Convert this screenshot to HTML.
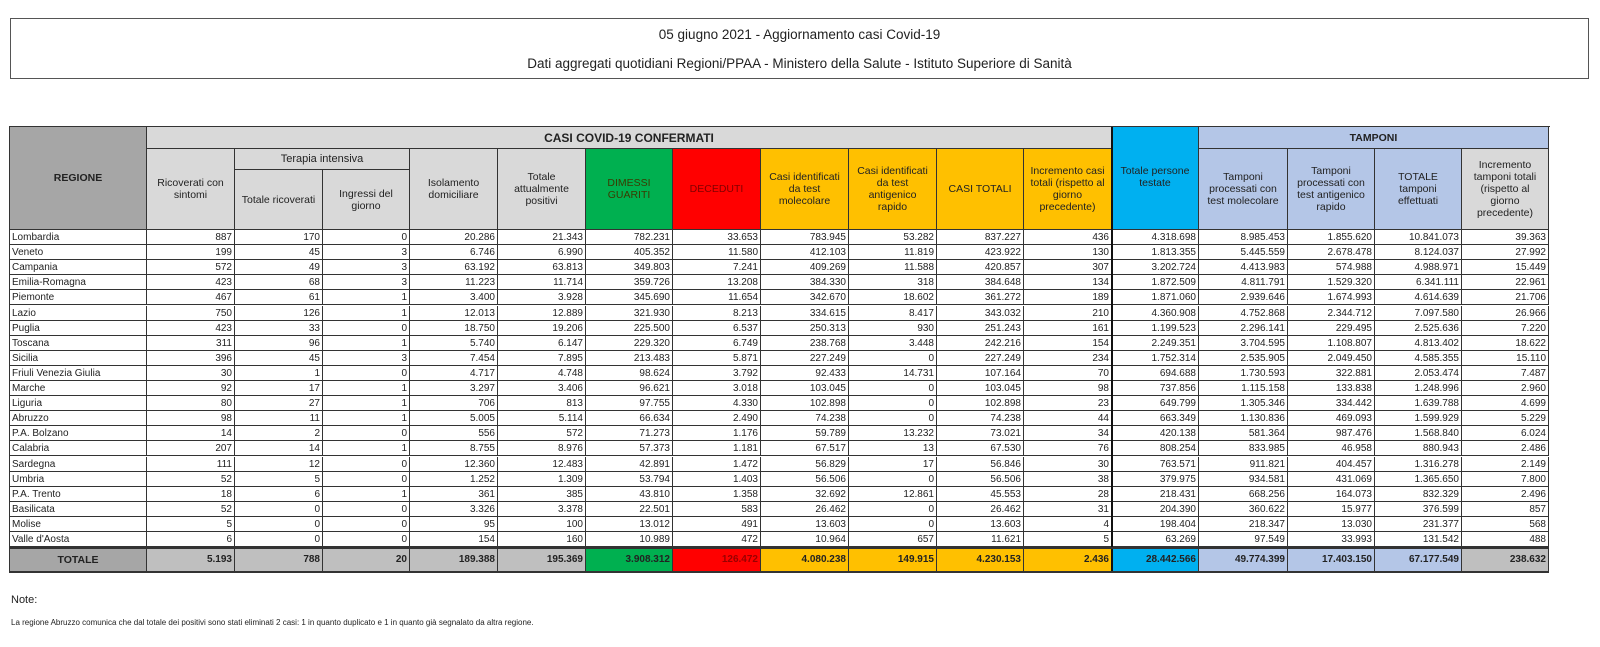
<!DOCTYPE html>
<html><head><meta charset="utf-8">
<style>
html,body{margin:0;padding:0;background:#fff;width:1600px;height:647px;overflow:hidden;font-family:"Liberation Sans",sans-serif;}
#title{position:absolute;left:10px;top:18px;width:1579px;height:61px;border:1px solid #555;box-sizing:border-box;text-align:center;font-size:13.5px;color:#222;}
#title div{position:absolute;left:0;right:0;}
.c{position:absolute;box-sizing:border-box;border-right:1px solid #333;border-bottom:1px solid #333;font-size:10px;color:#222;overflow:hidden;white-space:nowrap;}
.h{display:flex;align-items:center;justify-content:center;text-align:center;white-space:normal;line-height:12px;font-size:10.5px;padding:0 6px;}
.n{text-align:right;padding-right:2px;line-height:15px;}
.r{text-align:left;padding-left:2px;line-height:15px;}
.t{font-weight:bold;line-height:22px;font-size:10px;}
#note{position:absolute;left:11px;top:594px;font-size:11px;color:#222;}
#foot{position:absolute;left:11px;top:618px;font-size:8px;color:#222;}
</style></head><body>
<div id="title">
<div style="top:8px">05 giugno 2021 - Aggiornamento casi Covid-19</div>
<div style="top:37px">Dati aggregati quotidiani Regioni/PPAA - Ministero della Salute - Istituto Superiore di Sanità</div>
</div>
<div id="tbl"></div>
<div id="note">Note:</div>
<div id="foot">La regione Abruzzo comunica che dal totale dei positivi sono stati eliminati 2 casi: 1 in quanto duplicato e 1 in quanto già segnalato da altra regione.</div>
<script>
const regions=["Lombardia","Veneto","Campania","Emilia-Romagna","Piemonte","Lazio","Puglia","Toscana","Sicilia","Friuli Venezia Giulia","Marche","Liguria","Abruzzo","P.A. Bolzano","Calabria","Sardegna","Umbria","P.A. Trento","Basilicata","Molise","Valle d'Aosta"];
const values=[
["887","170","0","20.286","21.343","782.231","33.653","783.945","53.282","837.227","436","4.318.698","8.985.453","1.855.620","10.841.073","39.363"],
["199","45","3","6.746","6.990","405.352","11.580","412.103","11.819","423.922","130","1.813.355","5.445.559","2.678.478","8.124.037","27.992"],
["572","49","3","63.192","63.813","349.803","7.241","409.269","11.588","420.857","307","3.202.724","4.413.983","574.988","4.988.971","15.449"],
["423","68","3","11.223","11.714","359.726","13.208","384.330","318","384.648","134","1.872.509","4.811.791","1.529.320","6.341.111","22.961"],
["467","61","1","3.400","3.928","345.690","11.654","342.670","18.602","361.272","189","1.871.060","2.939.646","1.674.993","4.614.639","21.706"],
["750","126","1","12.013","12.889","321.930","8.213","334.615","8.417","343.032","210","4.360.908","4.752.868","2.344.712","7.097.580","26.966"],
["423","33","0","18.750","19.206","225.500","6.537","250.313","930","251.243","161","1.199.523","2.296.141","229.495","2.525.636","7.220"],
["311","96","1","5.740","6.147","229.320","6.749","238.768","3.448","242.216","154","2.249.351","3.704.595","1.108.807","4.813.402","18.622"],
["396","45","3","7.454","7.895","213.483","5.871","227.249","0","227.249","234","1.752.314","2.535.905","2.049.450","4.585.355","15.110"],
["30","1","0","4.717","4.748","98.624","3.792","92.433","14.731","107.164","70","694.688","1.730.593","322.881","2.053.474","7.487"],
["92","17","1","3.297","3.406","96.621","3.018","103.045","0","103.045","98","737.856","1.115.158","133.838","1.248.996","2.960"],
["80","27","1","706","813","97.755","4.330","102.898","0","102.898","23","649.799","1.305.346","334.442","1.639.788","4.699"],
["98","11","1","5.005","5.114","66.634","2.490","74.238","0","74.238","44","663.349","1.130.836","469.093","1.599.929","5.229"],
["14","2","0","556","572","71.273","1.176","59.789","13.232","73.021","34","420.138","581.364","987.476","1.568.840","6.024"],
["207","14","1","8.755","8.976","57.373","1.181","67.517","13","67.530","76","808.254","833.985","46.958","880.943","2.486"],
["111","12","0","12.360","12.483","42.891","1.472","56.829","17","56.846","30","763.571","911.821","404.457","1.316.278","2.149"],
["52","5","0","1.252","1.309","53.794","1.403","56.506","0","56.506","38","379.975","934.581","431.069","1.365.650","7.800"],
["18","6","1","361","385","43.810","1.358","32.692","12.861","45.553","28","218.431","668.256","164.073","832.329","2.496"],
["52","0","0","3.326","3.378","22.501","583","26.462","0","26.462","31","204.390","360.622","15.977","376.599","857"],
["5","0","0","95","100","13.012","491","13.603","0","13.603","4","198.404","218.347","13.030","231.377","568"],
["6","0","0","154","160","10.989","472","10.964","657","11.621","5","63.269","97.549","33.993","131.542","488"]];
const totals=["5.193","788","20","189.388","195.369","3.908.312","126.472","4.080.238","149.915","4.230.153","2.436","28.442.566","49.774.399","17.403.150","67.177.549","238.632"];
const headers=["Ricoverati con sintomi","Totale ricoverati","Ingressi del giorno","Isolamento domiciliare","Totale attualmente positivi","DIMESSI GUARITI","DECEDUTI","Casi identificati da test molecolare","Casi identificati da test antigenico rapido","CASI TOTALI","Incremento casi totali (rispetto al giorno precedente)","Totale persone testate","Tamponi processati con test molecolare","Tamponi processati con test antigenico rapido","TOTALE tamponi effettuati","Incremento tamponi totali (rispetto al giorno precedente)"];

const X=[10,147,235,323,410,498,586,673,761,849,937,1024,1112,1199,1288,1375,1462,1549];
const hdrBg=["#d9d9d9","#d9d9d9","#d9d9d9","#d9d9d9","#d9d9d9","#00b050","#ff0000","#ffc000","#ffc000","#ffc000","#ffc000","#00b0f0","#b4c6e7","#b4c6e7","#b4c6e7","#d9d9d9"];
const totBg=["#bfbfbf","#bfbfbf","#bfbfbf","#bfbfbf","#bfbfbf","#00b050","#ff0000","#ffc000","#ffc000","#ffc000","#ffc000","#00b0f0","#b4c6e7","#b4c6e7","#b4c6e7","#bfbfbf"];
const tbl=document.getElementById('tbl');
function cell(x,y,w,h,cls,txt,bg){const d=document.createElement('div');d.className='c '+cls;d.style.left=x+'px';d.style.top=y+'px';d.style.width=w+'px';d.style.height=h+'px';if(bg)d.style.background=bg;d.textContent=txt;tbl.appendChild(d);return d;}
const ob=document.createElement('div');ob.style.cssText='position:absolute;left:9px;top:126px;width:1541px;height:447px;border-left:1px solid #333;border-top:1px solid #333;box-sizing:border-box;';tbl.appendChild(ob);
let e;
e=cell(10,127,137,103,'h','REGIONE','#a6a6a6');e.style.fontWeight='bold';

e=cell(147,127,965,22,'h','CASI COVID-19 CONFERMATI','#d9d9d9');e.style.fontWeight='bold';e.style.fontSize='12px';

e=cell(1112,127,87,103,'h','','#00b0f0');

e=cell(1199,127,350,22,'h','TAMPONI','#b4c6e7');e.style.fontWeight='bold';

e=cell(235,149,175,21,'h','Terapia intensiva','#d9d9d9');e.style.fontSize='11px';

for(let i=0;i<16;i++){
  let x=X[i+1],w=X[i+2]-X[i+1],y=149,h=81;
  if(i==1||i==2){y=170;h=60;}
  if(i==11){y=127;h=103;}
  e=cell(x,y,w,h,'h',headers[i],hdrBg[i]);
  if(i==11){e.style.alignItems='flex-start';e.style.paddingTop='38px';}
  if(i==5)e.style.color='#3a3a00';
  if(i==6)e.style.color='#800000';
  
  
}
const rowH=15.1;
for(let r=0;r<regions.length;r++){
  const y=230+r*rowH;
  e=cell(10,y,137,rowH,'r',regions[r],'#fff');
  
  
  for(let i=0;i<16;i++){
    e=cell(X[i+1],y,X[i+2]-X[i+1],rowH,'n',values[r][i],'#fff');
    
    
  }
}
const ty=230+regions.length*rowH+2;
e=cell(10,ty,137,572-ty,'h','TOTALE','#a6a6a6');e.style.fontWeight='bold';


for(let i=0;i<16;i++){
  e=cell(X[i+1],ty,X[i+2]-X[i+1],572-ty,'n t',totals[i],totBg[i]);
  e.style.lineHeight=(572-ty)+'px';
  if(i==6)e.style.color='#900';
  
  
}
const sep=document.createElement('div');sep.style.cssText='position:absolute;left:1111px;top:127px;width:2px;height:445px;background:#111;';tbl.appendChild(sep);
const sep2=document.createElement('div');sep2.style.cssText='position:absolute;left:10px;top:'+(ty-2)+'px;width:1539px;height:2px;background:#333;';tbl.appendChild(sep2);
const sep3=document.createElement('div');sep3.style.cssText='position:absolute;left:10px;top:571px;width:1539px;height:2px;background:#333;';tbl.appendChild(sep3);
</script>
</body></html>
